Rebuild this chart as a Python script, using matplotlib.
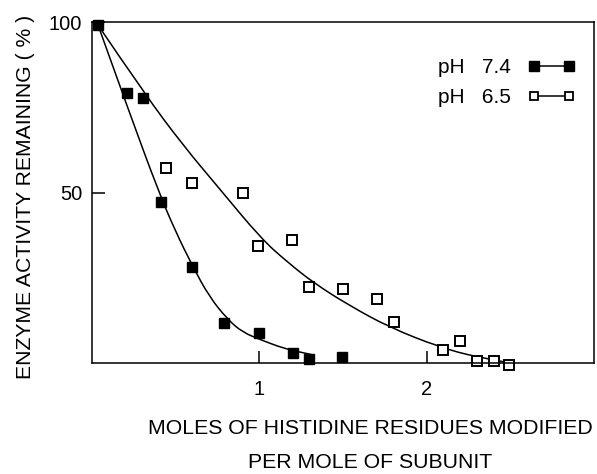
import matplotlib
matplotlib.use("Agg")
import matplotlib.pyplot as plt
from matplotlib.lines import Line2D
from matplotlib.path import Path
from matplotlib.patches import PathPatch

plt.rcParams['font.family'] = ['Liberation Sans', 'DejaVu Sans']

# pH 7.4 (filled squares)
x_ph74 = [0.036, 0.207, 0.307, 0.41, 0.60, 0.787, 1.0, 1.2, 1.295, 1.494]
y_ph74 = [99.1, 79.1, 77.6, 47.3, 28.2, 11.6, 8.7, 3.0, 1.1, 1.85]

# pH 6.5 (open squares)
x_ph65 = [0.442, 0.60, 0.90, 0.992, 1.197, 1.299, 1.498, 1.702, 1.803, 2.098, 2.20, 2.30, 2.40, 2.49]
y_ph65 = [57.1, 52.7, 49.8, 34.3, 36.1, 22.2, 21.8, 18.8, 12.0, 3.7, 6.5, 0.7, 0.6, -0.6]

# fitted curves
x_fit74 = [0.036, 0.22, 0.40, 0.50, 0.60, 0.70, 0.81, 0.90, 1.01, 1.11, 1.21, 1.31]
y_fit74 = [99.1, 73.9, 50.0, 38.5, 28.5, 19.5, 12.8, 9.0, 6.8, 4.9, 3.5, 2.5]

x_fit65 = [0.036, 0.32, 0.55, 0.75, 1.01, 1.17, 1.33, 1.54, 1.78, 2.08, 2.30, 2.50]
y_fit65 = [99.1, 78.5, 63.5, 51.8, 36.5, 29.5, 23.3, 16.8, 10.4, 4.6, 1.7, 0.0]

x_ticks = [1, 2]
x_ticklabels = ["1", "2"]
y_ticks = [50, 100]
y_ticklabels = ["50", "100"]
legend_labels = ["pH   7.4", "pH   6.5"]


def smooth_path(xs, ys):
    """Quadratic B-spline path using the read points as control points."""
    pts = list(zip(xs, ys))
    verts = [pts[0]]
    codes = [Path.MOVETO]
    n = len(pts)
    for i in range(1, n - 1):
        ctrl = pts[i]
        if i < n - 2:
            end = ((pts[i][0] + pts[i + 1][0]) / 2, (pts[i][1] + pts[i + 1][1]) / 2)
        else:
            end = pts[n - 1]
        verts += [ctrl, end]
        codes += [Path.CURVE3, Path.CURVE3]
    return Path(verts, codes)


fig = plt.figure(figsize=(5.97, 4.74), dpi=100)
ax = fig.add_axes([92/597, 1 - 363/474, (594-92)/597, (363-22)/474])

for xs, ys in [(x_fit74, y_fit74), (x_fit65, y_fit65)]:
    ax.add_patch(PathPatch(smooth_path(xs, ys), facecolor='none', edgecolor='black', lw=1.1))

ax.plot(x_ph74, y_ph74, linestyle='none', marker='s', ms=7.5, mfc='black', mec='black', clip_on=False)
ax.plot(x_ph65, y_ph65, linestyle='none', marker='s', ms=6.5, mfc='white', mec='black', mew=1.4, clip_on=False)

ax.set_xlim(0, 3)
ax.set_ylim(0, 100)
ax.set_xticks(x_ticks)
ax.set_xticklabels(x_ticklabels)
ax.set_yticks(y_ticks)
ax.set_yticklabels(y_ticklabels)
ax.tick_params(direction='in', length=9, width=1.1, labelsize=14.5)
ax.tick_params(axis='x', pad=12)
ax.tick_params(axis='y', pad=7)
for s in ax.spines.values():
    s.set_linewidth(1.1)

ax.set_ylabel("ENZYME ACTIVITY REMAINING ( % )", fontsize=15.2)
ax.yaxis.set_label_coords(-0.1135, 0.487)
ax.set_xlabel("MOLES OF HISTIDINE RESIDUES MODIFIED\nPER MOLE OF SUBUNIT", fontsize=15.3, linespacing=2.0)
ax.xaxis.set_label_coords((370-92)/502, (363-419)/341)

h74 = Line2D([], [], color='black', lw=1.1, marker='s', ms=6.5, mfc='black', mec='black')
h65 = Line2D([], [], color='black', lw=1.1, marker='s', ms=5.5, mfc='white', mec='black', mew=1.3)
ax.legend([h74, h65], legend_labels, loc='upper right', bbox_to_anchor=(1, 0.948),
          frameon=False, markerfirst=False, numpoints=2, handlelength=2.3, fontsize=15,
          labelspacing=0.5, handletextpad=0.8, borderaxespad=0.5)

fig.savefig("out.png", dpi=100)
